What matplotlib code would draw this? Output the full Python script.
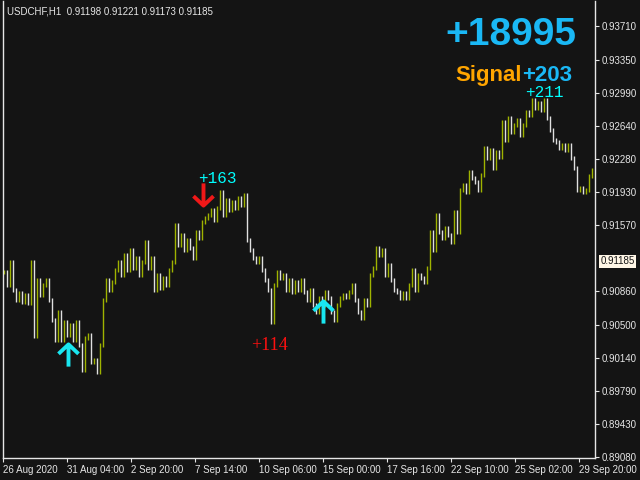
import numpy as np
import matplotlib.pyplot as plt
from matplotlib.path import Path

# USDCHF H1, one close every 3 hours
closes = [
    0.91070, 0.90930, 0.91177, 0.90877, 0.90769, 0.90845, 0.90747, 0.90823, 0.90737, 0.91177,
    0.90382, 0.90984, 0.90823, 0.90930, 0.90984, 0.90769, 0.90554, 0.90339, 0.90639, 0.90339,
    0.90532, 0.90392, 0.90500, 0.90339, 0.90532, 0.90285, 0.90016, 0.90360, 0.90392, 0.90102,
    0.90124, 0.89994, 0.90285, 0.90769, 0.90984, 0.90877, 0.90962, 0.91092, 0.91177, 0.91038,
    0.91253, 0.91092, 0.91307, 0.91113, 0.91221, 0.91038, 0.91177, 0.91392, 0.91113, 0.91221,
    0.90877, 0.91038, 0.90898, 0.91006, 0.90930, 0.91092, 0.91177, 0.91576, 0.91361, 0.91468,
    0.91307, 0.91414, 0.91328, 0.91221, 0.91500, 0.91436, 0.91608, 0.91651, 0.91683, 0.91737,
    0.91629, 0.91758, 0.91930, 0.91683, 0.91844, 0.91737, 0.91823, 0.91758, 0.91866, 0.91791,
    0.91898, 0.91414, 0.91307, 0.91221, 0.91177, 0.91221, 0.91092, 0.90984, 0.90877, 0.90532,
    0.90930, 0.91070, 0.91006, 0.91038, 0.90877, 0.90984, 0.90855, 0.90962, 0.90877, 0.90984,
    0.90855, 0.90769, 0.90877, 0.90715, 0.90639, 0.90790, 0.90715, 0.90855, 0.90790, 0.90639,
    0.90554, 0.90715, 0.90790, 0.90823, 0.90801, 0.90855, 0.90930, 0.90769, 0.90639, 0.90575,
    0.90769, 0.90715, 0.91038, 0.91113, 0.91328, 0.91253, 0.91307, 0.91038, 0.91145, 0.90984,
    0.90877, 0.90855, 0.90790, 0.90845, 0.90790, 0.90930, 0.91092, 0.90877, 0.91038, 0.91006,
    0.90962, 0.91113, 0.91500, 0.91307, 0.91683, 0.91500, 0.91436, 0.91543, 0.91468, 0.91392,
    0.91715, 0.91500, 0.91952, 0.92006, 0.91930, 0.92145, 0.92081, 0.92038, 0.91952, 0.92113,
    0.92404, 0.92296, 0.92382, 0.92189, 0.92360, 0.92307, 0.92683, 0.92490, 0.92726, 0.92576,
    0.92651, 0.92705, 0.92544, 0.92651, 0.92791, 0.92759, 0.92920, 0.92834, 0.92888, 0.92812,
    0.92920, 0.92726, 0.92597, 0.92490, 0.92468, 0.92404, 0.92436, 0.92382, 0.92436, 0.92296,
    0.92189, 0.91952, 0.91973, 0.91930, 0.91952, 0.92103, 0.92167,
]
hours_per_bar = 3

time_ticks = [0, 64, 128, 192, 256, 320, 384, 448, 512, 576]
time_labels = ['26 Aug 2020', '31 Aug 04:00', '2 Sep 20:00', '7 Sep 14:00', '10 Sep 06:00',
               '15 Sep 00:00', '17 Sep 16:00', '22 Sep 10:00', '25 Sep 02:00', '29 Sep 20:00']
price_ticks = [0.93710, 0.93350, 0.92990, 0.92640, 0.92280, 0.91930, 0.91570,
               0.90860, 0.90500, 0.90140, 0.89790, 0.89430, 0.89080]
last_price = 0.91185
header = 'USDCHF,H1  0.91198 0.91221 0.91173 0.91185'
total_pips = '+18995'
signal_pips = '+203'

arrow_hours = [65, 199.5, 320]
arrow_prices = [0.90177, 0.91909, 0.90639]
arrow_dirs = ['up', 'down', 'up']

pip_hours = [214.5, 266.5, 541]
pip_prices = [0.92075, 0.90274, 0.93000]
pip_texts = ['+163', '+114', '+211']

bg = '#141414'
fg = '#e6e6e6'
bull = '#9fb300'
bear = '#e0e0e0'

fig = plt.figure(figsize=(6.4, 4.8), dpi=100, facecolor=bg)
ax = fig.add_axes([3 / 640, 22 / 480, 592 / 640, 457 / 480], facecolor=bg)

c = np.array(closes)
o = np.concatenate([[c[0]], c[:-1]])
x = 1 + hours_per_bar * np.arange(len(c))
wick = 0.00022
lo = np.minimum(o, c) - wick
hi = np.maximum(o, c) + wick
cols = [bull if cc >= oo else bear for oo, cc in zip(o, c)]
ax.vlines(x, lo, hi, colors=cols, linewidth=1.0)

ax.set_xlim(0, 592)
ax.set_ylim(0.89069, 0.93984)

for s in ['left', 'right', 'bottom']:
    ax.spines[s].set_color(fg)
    ax.spines[s].set_linewidth(1)
ax.spines['top'].set_visible(False)

ax.yaxis.tick_right()
ax.set_yticks(price_ticks)
ax.set_yticklabels(['%.5f' % p for p in price_ticks])
ax.set_xticks(time_ticks)
ax.set_xticklabels(time_labels, ha='left')
ax.tick_params(colors=fg, labelsize=7, length=3, width=0.8, pad=2)
for lab in ax.get_xticklabels() + ax.get_yticklabels():
    lab.set_fontfamily('Liberation Sans')
    lab.set_color(fg)

# current price box
ax.annotate('%.5f' % last_price, xy=(1.0, last_price), xycoords=('axes fraction', 'data'),
            xytext=(4, 0), textcoords='offset points', va='center', ha='left',
            fontsize=7, family='Liberation Sans', color='#141414',
            bbox=dict(boxstyle='square,pad=0.15', fc='#fff6e6', ec='none'))

# signal arrows: shaft plus open chevron
up_arrow = Path([(0, -1), (0, 1), (-0.9, 0.15), (0, 1), (0.9, 0.15)],
                [Path.MOVETO, Path.LINETO, Path.MOVETO, Path.LINETO, Path.LINETO])
down_arrow = Path([(0, 1), (0, -1), (-0.9, -0.15), (0, -1), (0.9, -0.15)],
                  [Path.MOVETO, Path.LINETO, Path.MOVETO, Path.LINETO, Path.LINETO])
for h, p, d in zip(arrow_hours, arrow_prices, arrow_dirs):
    mk = up_arrow if d == 'up' else down_arrow
    color = '#19e6f0' if d == 'up' else '#f01818'
    ax.plot([h], [p], marker=mk, markersize=16, markeredgewidth=2.8,
            markeredgecolor=color, markerfacecolor='none', linestyle='none')

# pip labels
for h, p, t in zip(pip_hours, pip_prices, pip_texts):
    if t == '+114':
        ax.text(h, p, t, color='#ff1010', fontsize=13, family='Liberation Serif',
                ha='center', va='center')
    else:
        ax.text(h, p, t, color='#00ffff', fontsize=11.5, family='Liberation Mono',
                ha='center', va='center')

fig.text(7 / 640, 1 - 11 / 480, header, color=fg, fontsize=7, family='Liberation Sans',
         ha='left', va='center')
fig.text(576 / 640, 1 - 45 / 480, total_pips, color='#1ab8f5', fontsize=28,
         fontweight='bold', family='Liberation Sans', ha='right', va='baseline')
fig.text(572 / 640, 1 - 81 / 480, signal_pips, color='#1ab8f5', fontsize=16,
         fontweight='bold', family='Liberation Sans', ha='right', va='baseline')
fig.text(522 / 640, 1 - 81 / 480, 'Signal', color='#ffa500', fontsize=16,
         fontweight='bold', family='Liberation Sans', ha='right', va='baseline')

fig.savefig('out.png', dpi=100, facecolor=bg)
